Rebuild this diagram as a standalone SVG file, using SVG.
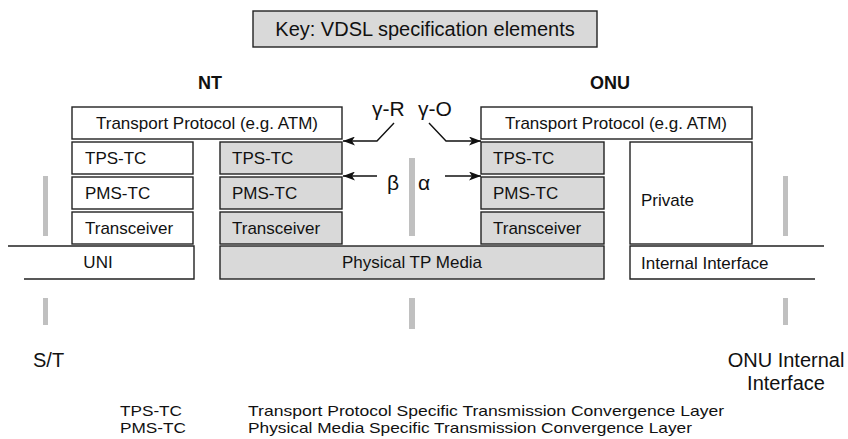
<svg xmlns="http://www.w3.org/2000/svg" width="848" height="439" viewBox="0 0 848 439">
<defs>
<style>
text{font-family:"Liberation Sans",Arial,sans-serif;fill:#111}
.t{font-size:17px}
.c{text-anchor:middle}
.b{font-size:18px;font-weight:bold}
.big{font-size:20px}
.lg{font-size:15px}
.g{font-size:21px}
.w{fill:#fff;stroke:#222;stroke-width:1.4}
.s{fill:#d9d9d9;stroke:#222;stroke-width:1.4}
.ln{fill:none;stroke:#222;stroke-width:1.4}
.bar{fill:#c0c0c0}
.ar{fill:none;stroke:#111;stroke-width:1.4;marker-end:url(#ah)}
</style>
<marker id="ah" markerWidth="13" markerHeight="9" refX="12" refY="4.5" orient="auto" markerUnits="userSpaceOnUse">
<path d="M0,0 L12,4.5 L0,9 L3,4.5 z" fill="#111"/>
</marker>
</defs>
<rect width="848" height="439" fill="#fff"/>

<g id="key">
<rect class="s" x="253" y="11" width="344" height="36"/>
<text class="big c" x="425" y="36">Key: VDSL specification elements</text>
</g>

<g id="nt-label"><text class="b c" x="210" y="89">NT</text></g>
<g id="onu-label"><text class="b c" x="610" y="89">ONU</text></g>

<g id="bars">
<rect class="bar" x="43" y="176" width="5" height="60"/>
<rect class="bar" x="43" y="298" width="5" height="27"/>
<rect class="bar" x="409" y="158" width="6" height="78"/>
<rect class="bar" x="409" y="298" width="6" height="31"/>
<rect class="bar" x="783" y="176" width="5" height="60"/>
<rect class="bar" x="783" y="298" width="5" height="27"/>
</g>

<g id="nt-transport">
<rect class="w" x="72" y="107" width="270" height="32"/>
<text class="t c" x="207" y="129">Transport Protocol (e.g. ATM)</text>
</g>
<g id="nt-tpstc">
<rect class="w" x="72" y="142" width="121" height="32"/>
<text class="t" x="85" y="164">TPS-TC</text>
</g>
<g id="nt-pmstc">
<rect class="w" x="72" y="177" width="121" height="32"/>
<text class="t" x="85" y="199">PMS-TC</text>
</g>
<g id="nt-transceiver">
<rect class="w" x="72" y="212" width="121" height="32"/>
<text class="t" x="85" y="234">Transceiver</text>
</g>
<g id="uni">
<path class="ln" d="M8,246 H194 V279 H24"/>
<text class="t c" x="98" y="268">UNI</text>
</g>

<g id="vtu-r-tpstc">
<rect class="s" x="220" y="142" width="122" height="32"/>
<text class="t" x="232" y="164">TPS-TC</text>
</g>
<g id="vtu-r-pmstc">
<rect class="s" x="220" y="177" width="122" height="32"/>
<text class="t" x="232" y="199">PMS-TC</text>
</g>
<g id="vtu-r-transceiver">
<rect class="s" x="220" y="212" width="122" height="32"/>
<text class="t" x="232" y="234">Transceiver</text>
</g>
<g id="physical-media">
<rect class="s" x="220" y="246" width="384" height="33"/>
<text class="t c" x="412" y="268">Physical TP Media</text>
</g>

<g id="onu-transport">
<rect class="w" x="481" y="107" width="271" height="32"/>
<text class="t c" x="616" y="129">Transport Protocol (e.g. ATM)</text>
</g>
<g id="vtu-o-tpstc">
<rect class="s" x="481" y="142" width="123" height="32"/>
<text class="t" x="493" y="164">TPS-TC</text>
</g>
<g id="vtu-o-pmstc">
<rect class="s" x="481" y="177" width="123" height="32"/>
<text class="t" x="493" y="199">PMS-TC</text>
</g>
<g id="vtu-o-transceiver">
<rect class="s" x="481" y="212" width="123" height="32"/>
<text class="t" x="493" y="234">Transceiver</text>
</g>
<g id="private">
<rect class="w" x="630" y="142" width="122" height="102"/>
<text class="t" x="641" y="206">Private</text>
</g>
<g id="internal-interface">
<path class="ln" d="M824,246 H630 V279 H815"/>
<text class="t" x="641" y="269">Internal Interface</text>
</g>

<g id="connectors">
<path class="ar" d="M394,123 L377,141 L343,141"/>
<path class="ar" d="M429,123 L446,141 L481,141"/>
<path class="ar" d="M377,176 L343,176"/>
<path class="ar" d="M445,176 L481,176"/>
</g>

<g id="interface-labels">
<text class="g" x="372" y="116">γ-R</text>
<text class="g" x="418" y="116">γ-O</text>
<text class="g" x="387" y="190">β</text>
<text class="g" x="418" y="190">α</text>
</g>

<g id="st-label"><text class="big" x="33" y="367">S/T</text></g>
<g id="onu-internal-label">
<text class="big c" x="786" y="367">ONU Internal</text>
<text class="big c" x="786" y="390">Interface</text>
</g>

<g id="legend">
<text class="lg" x="120" y="416" textLength="62" lengthAdjust="spacingAndGlyphs">TPS-TC</text>
<text class="lg" x="248" y="416" textLength="476" lengthAdjust="spacingAndGlyphs">Transport Protocol Specific Transmission Convergence Layer</text>
<text class="lg" x="120" y="433" textLength="66" lengthAdjust="spacingAndGlyphs">PMS-TC</text>
<text class="lg" x="248" y="433" textLength="444" lengthAdjust="spacingAndGlyphs">Physical Media Specific Transmission Convergence Layer</text>
</g>
</svg>
